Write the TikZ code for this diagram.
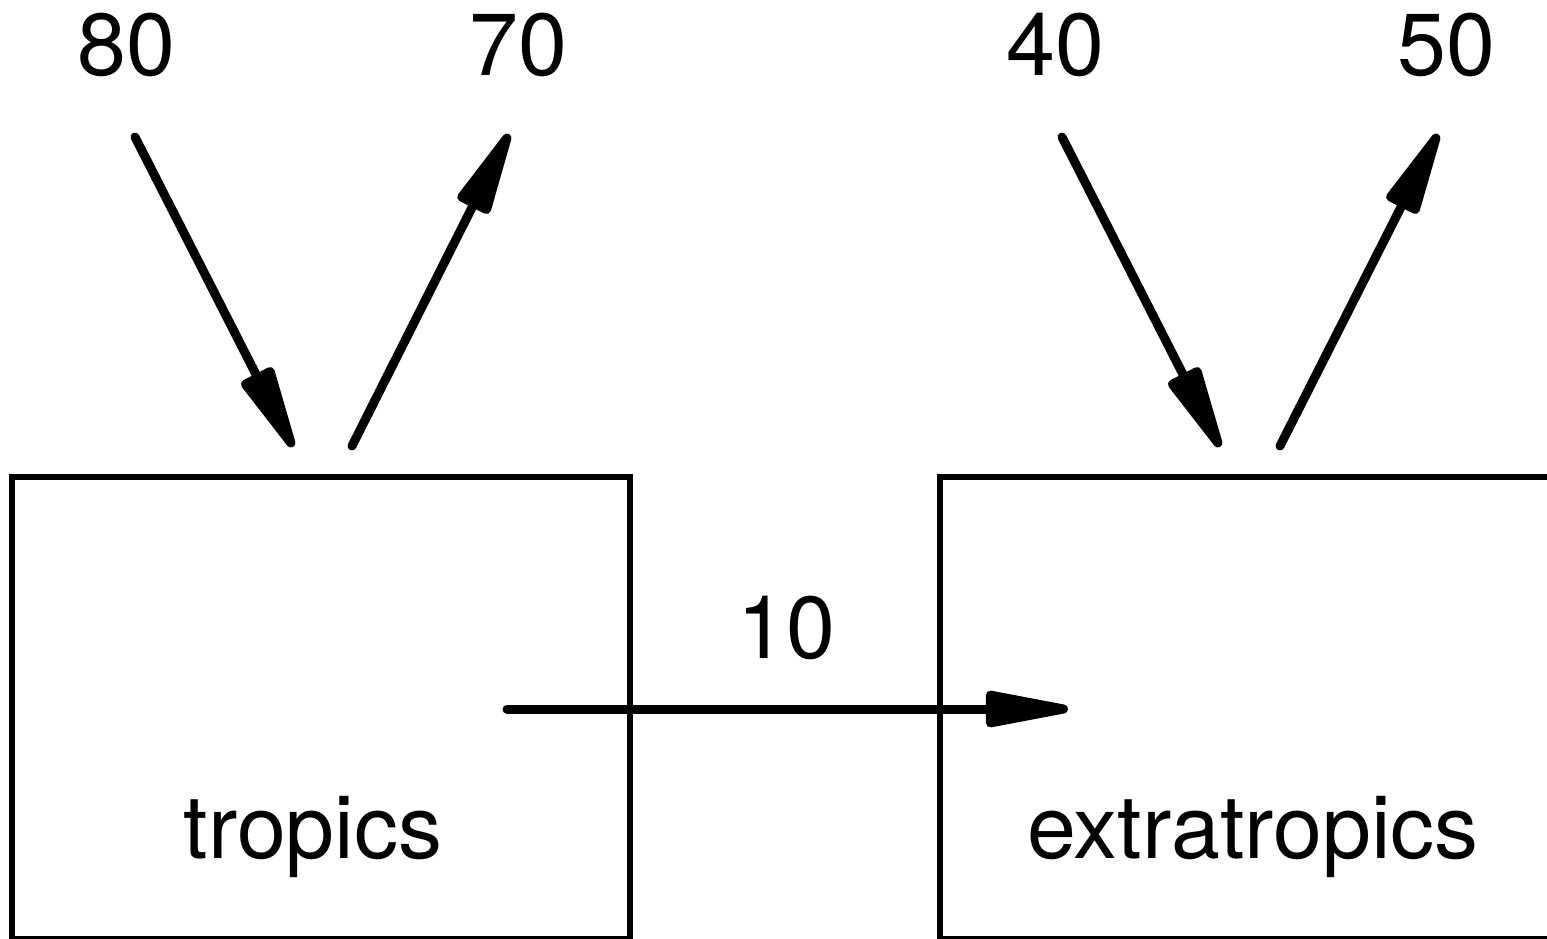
\documentclass[tikz,border=0pt]{standalone}
\usepackage{fontspec}
\setmainfont{TeX Gyre Heros}
\usetikzlibrary{arrows.meta}
\begin{document}
\begin{tikzpicture}[x=0.5pt,y=-0.5pt,
  box/.style={draw,line width=3pt,inner sep=0pt,outer sep=0pt},
  flux/.style={line width=4.5pt,line cap=round,-{Triangle[length=52pt,width=18pt,round]}},
  lbl/.style={font=\fontsize{44}{50}\selectfont,anchor=base,inner sep=0pt}]
\useasboundingbox (0,0) rectangle (1547,938);
\clip (0,0) rectangle (1547,938);
% boxes
\node[box,minimum width=309pt,minimum height=231pt] (trop) at (321,708) {};
\node[box,minimum width=310pt,minimum height=231pt] (extra) at (1250,708) {};
\node[lbl] (tlab) at (313,858) {tropics};
\node[lbl] (elab) at (1253,858) {extratropics};
% numbers
\node[lbl] (n80) at (126,75) {80};
\node[lbl] (n70) at (518,75) {70};
\node[lbl] (n40) at (1055,75) {40};
\node[lbl] (n50) at (1446,75) {50};
\node[lbl] (n10) at (786,658) {10};
% arrow ends
\coordinate (a1s) at (135,137);
\coordinate (a1e) at (293,447);
\coordinate (a2s) at (352,446);
\coordinate (a2e) at (509,134);
\coordinate (a3s) at (1062,137);
\coordinate (a3e) at (1220,447);
\coordinate (a4s) at (1280,446);
\coordinate (a4e) at (1438,134);
\coordinate (a5s) at (507,709);
\coordinate (a5e) at (1068,709);
\draw[flux] (a1s) -- (a1e);
\draw[flux] (a2s) -- (a2e);
\draw[flux] (a3s) -- (a3e);
\draw[flux] (a4s) -- (a4e);
\draw[flux] (a5s) -- (a5e);
\end{tikzpicture}
\end{document}
